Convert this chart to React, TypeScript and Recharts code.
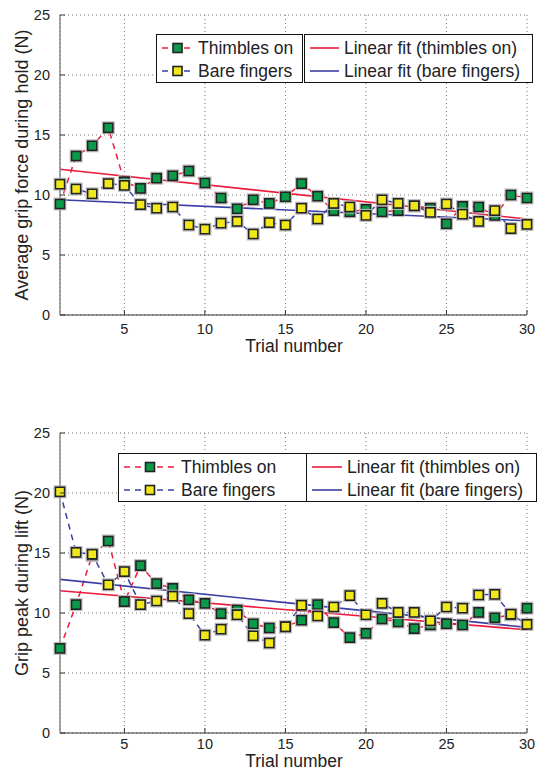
import React from "react";
import { LineChart, Line, XAxis, YAxis, CartesianGrid } from "recharts";

/* trial index shared by every series */
const trials = [1, 2, 3, 4, 5, 6, 7, 8, 9, 10, 11, 12, 13, 14, 15, 16, 17, 18, 19, 20, 21, 22, 23, 24, 25, 26, 27, 28, 29, 30];

/* average grip force during hold (N) */
const holdThimbles = [9.25, 13.25, 14.1, 15.6, 11.1, 10.55, 11.4, 11.6, 12.0, 11.0, 9.75, 8.85, 9.6, 9.3, 9.85, 10.95, 9.9, 8.7, 8.6, 8.8, 8.6, 8.7, 9.1, 8.9, 7.6, 9.05, 9.0, 8.3, 10.0, 9.75];
const holdBare = [10.9, 10.5, 10.1, 10.95, 10.8, 9.2, 8.9, 9.0, 7.5, 7.15, 7.65, 7.8, 6.75, 7.7, 7.5, 8.9, 8.0, 9.3, 9.0, 8.3, 9.6, 9.3, 9.1, 8.55, 9.25, 8.4, 7.8, 8.7, 7.2, 7.55];

/* grip peak during lift (N) */
const peakThimbles = [7.05, 10.7, 14.8, 16.0, 10.95, 13.95, 12.45, 12.05, 11.1, 10.8, 9.95, 10.25, 9.1, 8.75, 8.85, 9.4, 10.7, 9.2, 7.95, 8.3, 9.5, 9.25, 8.7, 9.0, 9.1, 9.0, 10.05, 9.6, 9.85, 10.4];
const peakBare = [20.1, 15.05, 14.9, 12.35, 13.45, 10.7, 11.0, 11.4, 9.95, 8.15, 8.65, 9.85, 8.1, 7.5, 8.85, 10.65, 9.75, 10.5, 11.45, 9.85, 10.8, 10.05, 10.05, 9.35, 10.5, 10.4, 11.5, 11.55, 9.9, 9.05];

/* linear fit end points, read at trial 1 and trial 30 */
const fitTrials = [1, 30];
const holdFitThimbles = [12.15, 8.0];
const holdFitBare = [9.6, 7.85];
const peakFitThimbles = [11.85, 8.6];
const peakFitBare = [12.8, 8.8];

const xTicks = [5, 10, 15, 20, 25, 30];
const yTicks = [0, 5, 10, 15, 20, 25];

const RED = "#ec1c3c";
const BLUE = "#3b3fa3";
const GREEN = "#0a9a4a";
const YELLOW = "#f0e81a";
const FONT = "'Liberation Sans', Arial, sans-serif";

const buildRows = (a: number[], b: number[]) =>
  trials.map((t, i) => ({ trial: t, thimbles: a[i], bare: b[i] }));
const buildFit = (a: number[], b: number[]) =>
  fitTrials.map((t, i) => ({ trial: t, thimbles: a[i], bare: b[i] }));

/* MATLAB-style square marker with a soft grey halo */
const squareDot = (fill: string) => (props: any) => {
  const { cx, cy, index } = props;
  if (cx == null || cy == null) return <g key={index} />;
  return (
    <g key={`sq-${index}`}>
      <rect x={cx - 6} y={cy - 6} width={12} height={12} fill="none" stroke="#bbb" strokeWidth={1} />
      <rect x={cx - 4.6} y={cy - 4.6} width={9.2} height={9.2} fill={fill} stroke="#222" strokeWidth={1.6} />
    </g>
  );
};

/* tick labels with small inward tick marks; `below` = baseline distance under the axis */
const xTickFor = (below: number) => (props: any) => {
  const { x, y, payload } = props;
  const axisY = y - 8;
  return (
    <g>
      <line x1={x} x2={x} y1={axisY} y2={axisY - 5} stroke="#333" />
      <text x={x} y={axisY + below} textAnchor="middle" fontSize={14.5} fill="#222" fontFamily={FONT}>
        {payload.value}
      </text>
    </g>
  );
};
const yTick = (props: any) => {
  const { x, y, payload } = props;
  const axisX = x + 8;
  return (
    <g>
      <line x1={axisX} x2={axisX + 5} y1={y} y2={y} stroke="#333" />
      <text x={x - 2} y={y + 5} textAnchor="end" fontSize={14.5} fill="#222" fontFamily={FONT}>
        {payload.value}
      </text>
    </g>
  );
};

type LegendItem = { label: string; color: string; marker?: string };

function LegendBox({ left, top, width, sampleW, items }: { left: number; top: number; width: number; sampleW: number; items: LegendItem[] }) {
  return (
    <div
      style={{
        position: "absolute",
        left,
        top,
        width,
        height: 49,
        boxSizing: "border-box",
        border: "1.3px solid #111",
        background: "#fff",
      }}
    >
      {items.map((it, i) => (
        <div key={it.label} style={{ position: "absolute", left: 4, top: 3 + i * 23, height: 20, display: "flex", alignItems: "center", whiteSpace: "nowrap" }}>
          <svg width={sampleW} height={20}>
            <line x1={1} x2={sampleW - 1} y1={10} y2={10} stroke={it.color} strokeWidth={1.6} strokeDasharray={it.marker ? "6 5" : undefined} />
            {it.marker && (
              <rect x={sampleW / 2 - 4.5} y={5.5} width={9} height={9} fill={it.marker} stroke="#222" strokeWidth={1.6} />
            )}
          </svg>
          <span style={{ marginLeft: 4, fontSize: 17.5, color: "#222", fontFamily: FONT }}>{it.label}</span>
        </div>
      ))}
    </div>
  );
}

type PanelProps = {
  top: number;
  height: number;
  yLabel: string;
  tickBelow: number;
  xLabelY: number;
  thimbles: number[];
  bare: number[];
  fitThimbles: number[];
  fitBare: number[];
  box1: { left: number; width: number; sampleW: number };
  box2: { left: number; width: number; sampleW: number };
  legendTop: number;
};

function Panel(p: PanelProps) {
  const rows = buildRows(p.thimbles, p.bare);
  const fit = buildFit(p.fitThimbles, p.fitBare);
  return (
    <div style={{ position: "absolute", left: 0, top: p.top, width: 540, height: p.height }}>
      <LineChart width={540} height={p.height} data={rows} margin={{ top: 15, right: 13, left: 0, bottom: p.height - 353 }}>
        <CartesianGrid stroke="#777" strokeDasharray="1 3" />
        <XAxis
          dataKey="trial"
          type="number"
          domain={[1, 30]}
          ticks={xTicks}
          height={38}
          stroke="#333"
          tickLine={false}
          tick={xTickFor(p.tickBelow)}
          label={() => (
            <text x={294} y={p.xLabelY} textAnchor="middle" fontSize={17.5} fill="#222" fontFamily={FONT}>
              Trial number
            </text>
          )}
        />
        <YAxis
          type="number"
          domain={[0, 25]}
          ticks={yTicks}
          width={60}
          stroke="#888"
          strokeWidth={1.5}
          tickLine={false}
          tick={yTick}
          label={() => (
            <text
              x={22}
              y={165}
              transform="rotate(-90 22 165)"
              textAnchor="middle"
              dominantBaseline="central"
              fontSize={18}
              fill="#222"
              fontFamily={FONT}
            >
              {p.yLabel}
            </text>
          )}
        />
        <Line dataKey="thimbles" stroke={RED} strokeWidth={1.5} strokeDasharray="6 5" dot={squareDot(GREEN)} activeDot={false} isAnimationActive={false} />
        <Line dataKey="bare" stroke={BLUE} strokeWidth={1.5} strokeDasharray="6 5" dot={squareDot(YELLOW)} activeDot={false} isAnimationActive={false} />
        <Line data={fit} dataKey="thimbles" stroke={RED} strokeWidth={1.6} dot={false} activeDot={false} isAnimationActive={false} />
        <Line data={fit} dataKey="bare" stroke={BLUE} strokeWidth={1.6} dot={false} activeDot={false} isAnimationActive={false} />
      </LineChart>
      <LegendBox
        left={p.box1.left}
        top={p.legendTop}
        width={p.box1.width}
        sampleW={p.box1.sampleW}
        items={[
          { label: "Thimbles on", color: RED, marker: GREEN },
          { label: "Bare fingers", color: BLUE, marker: YELLOW },
        ]}
      />
      <LegendBox
        left={p.box2.left}
        top={p.legendTop}
        width={p.box2.width}
        sampleW={p.box2.sampleW}
        items={[
          { label: "Linear fit (thimbles on)", color: RED },
          { label: "Linear fit (bare fingers)", color: BLUE },
        ]}
      />
    </div>
  );
}

export default function App() {
  return (
    <div style={{ position: "absolute", left: 0, top: 0, width: 540, height: 771, background: "#fff", overflow: "hidden" }}>
      <Panel
        top={0}
        height={362}
        yLabel="Average grip force during hold (N)"
        tickBelow={19}
        xLabelY={352}
        thimbles={holdThimbles}
        bare={holdBare}
        fitThimbles={holdFitThimbles}
        fitBare={holdFitBare}
        legendTop={34}
        box1={{ left: 156, width: 147, sampleW: 33 }}
        box2={{ left: 304, width: 229, sampleW: 31 }}
      />
      <Panel
        top={418}
        height={353}
        yLabel="Grip peak during lift (N)"
        tickBelow={16}
        xLabelY={349}
        thimbles={peakThimbles}
        bare={peakBare}
        fitThimbles={peakFitThimbles}
        fitBare={peakFitBare}
        legendTop={35}
        box1={{ left: 118, width: 189, sampleW: 54 }}
        box2={{ left: 306, width: 231, sampleW: 32 }}
      />
    </div>
  );
}
